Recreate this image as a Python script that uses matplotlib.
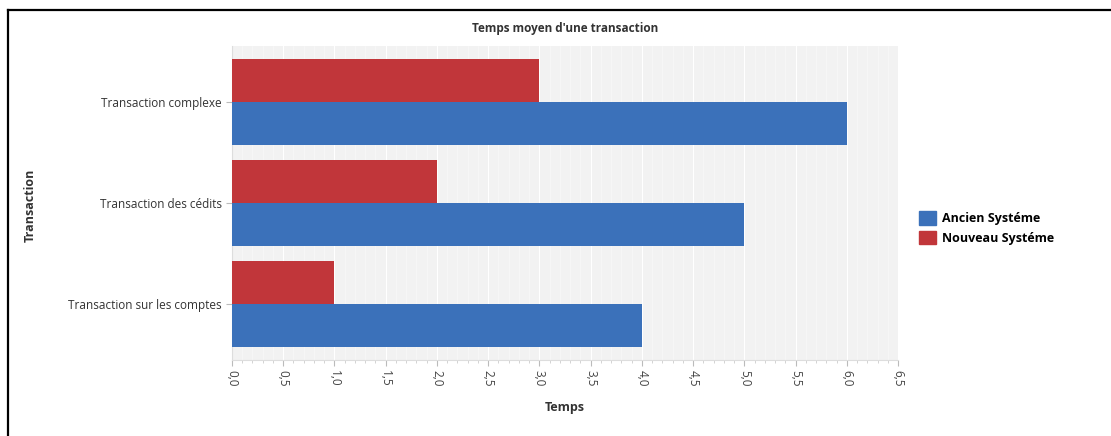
import matplotlib
matplotlib.use("Agg")
import matplotlib.pyplot as plt
import matplotlib.patches as mpatches
import matplotlib.lines as mlines
from matplotlib.ticker import MultipleLocator, FuncFormatter
import numpy as np

categories = ["Transaction sur les comptes", "Transaction des cédits", "Transaction complexe"]
ancien = [4.0, 5.0, 6.0]
nouveau = [1.0, 2.0, 3.0]
series_names = ["Ancien Systéme", "Nouveau Systéme"]
colors = ["#3b71ba", "#c1363a"]

plt.rcParams['font.family'] = ['Open Sans', 'DejaVu Sans']

W, H = 1111, 436
fig = plt.figure(figsize=(W / 100, H / 100), dpi=100)
fig.patch.set_facecolor("white")

# outer frame (top and left edges, running off the canvas)
fig.add_artist(mlines.Line2D([8 / W, 1.0], [1 - 10 / H, 1 - 10 / H],
                             transform=fig.transFigure, color="black", linewidth=1.6))
fig.add_artist(mlines.Line2D([8 / W, 8 / W], [0.0, 1 - 10 / H],
                             transform=fig.transFigure, color="black", linewidth=1.6))

ax = fig.add_axes([232 / W, 1 - 360 / H, 666 / W, 314 / H])
ax.set_facecolor("#f2f2f2")

y = np.arange(len(categories))
h = 0.426
ax.barh(y - h / 2, ancien, height=h, color=colors[0], label=series_names[0], zorder=3)
ax.barh(y + h / 2, nouveau, height=h, color=colors[1], label=series_names[1], zorder=3)

ax.set_xlim(0, 6.5)
ax.set_ylim(-0.554, 2.554)
ax.set_yticks(y)
ax.set_yticklabels(categories, fontsize=8.5, color="#333333")
ax.xaxis.set_major_locator(MultipleLocator(0.5))
ax.xaxis.set_minor_locator(MultipleLocator(0.1))
ax.xaxis.set_major_formatter(FuncFormatter(lambda v, p: f"{v:.1f}".replace(".", ",")))
ax.tick_params(axis="x", labelsize=8.5, colors="#bbbbbb", length=4, pad=3)
ax.tick_params(axis="x", which="minor", colors="#cccccc", length=2)
ax.tick_params(axis="y", colors="#bbbbbb", length=4)
for lbl in ax.get_xticklabels():
    lbl.set_rotation(270)
    lbl.set_color("#444444")
for lbl in ax.get_yticklabels():
    lbl.set_color("#333333")

ax.grid(True, axis="x", which="major", color="#ffffff", linewidth=0.8, zorder=0)
ax.grid(True, axis="x", which="minor", color="#f8f8f8", linewidth=0.5, zorder=0)
for s in ax.spines.values():
    s.set_visible(False)
ax.spines["left"].set_visible(True)
ax.spines["left"].set_color("#dddddd")
ax.spines["bottom"].set_visible(True)
ax.spines["bottom"].set_color("#dddddd")

fig.text((232 + 898) / 2 / W, 1 - 28 / H, "Temps moyen d'une transaction", fontsize=8.5,
         fontweight="bold", color="#333333", ha="center", va="center")
fig.text((232 + 898) / 2 / W, 1 - 407 / H, "Temps", fontsize=9, fontweight="bold",
         color="#333333", ha="center", va="center")
fig.text(30 / W, 1 - 205 / H, "Transaction", rotation=90, fontsize=9,
         fontweight="bold", color="#333333", ha="center", va="center")

handles = [mpatches.Patch(color=c, label=n) for c, n in zip(colors, series_names)]
fig.legend(handles=handles, loc="center left", bbox_to_anchor=(908 / W, 1 - 228 / H),
           frameon=False, prop={"weight": "bold", "size": 9},
           handlelength=1.3, handleheight=1.3, handletextpad=0.5, labelspacing=0.45)

fig.savefig("out.png", dpi=100)
